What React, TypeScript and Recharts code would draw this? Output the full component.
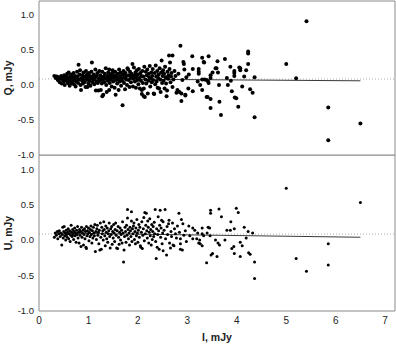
import { ScatterChart, Scatter, XAxis, YAxis, ReferenceLine } from "recharts";

// I, mJy vs Q, mJy
const qPoints: [number, number][] = [
  [0.31, 0.13], [0.34, 0.1], [0.36, 0.12], [0.38, 0.07], [0.4, 0.11], [0.42, 0.04], [0.43, 0.09], [0.45, 0.13], [0.46, 0.02], [0.48, 0.08], [0.49, 0.11], [0.5, 0.05],
  [0.51, 0.14], [0.52, 0.0], [0.53, 0.09], [0.55, 0.12], [0.56, 0.06], [0.57, 0.16], [0.58, 0.03], [0.59, 0.1], [0.6, 0.18], [0.61, 0.07], [0.62, -0.01], [0.63, 0.13], [0.64, 0.04], [0.65, 0.09], [0.66, 0.15], [0.67, 0.02], [0.68, 0.11], [0.69, 0.06], [0.7, 0.17],
  [0.71, 0.01], [0.72, 0.08], [0.73, 0.13], [0.74, -0.02], [0.75, 0.1], [0.76, 0.05], [0.77, 0.19], [0.78, 0.12], [0.79, 0.03], [0.8, 0.29], [0.81, 0.08], [0.82, 0.15], [0.83, 0.21], [0.84, 0.0], [0.85, -0.07], [0.86, 0.1], [0.87, 0.06], [0.88, 0.14], [0.89, 0.02], [0.9, 0.18],
  [0.91, 0.09], [0.92, 0.04], [0.93, 0.12], [0.94, -0.03], [0.95, 0.2], [0.96, 0.07], [0.97, 0.15], [0.98, -0.03], [0.99, 0.11], [1.0, 0.02], [1.01, 0.17], [1.02, 0.06], [1.03, 0.13], [1.04, -0.01], [1.05, 0.09], [1.06, 0.19], [1.07, 0.32], [1.08, 0.04], [1.09, 0.12], [1.1, 0.08],
  [1.11, 0.15], [1.12, 0.01], [1.13, 0.1], [1.14, 0.22], [1.15, -0.08], [1.16, 0.05], [1.17, 0.13], [1.18, 0.17], [1.19, 0.03], [1.2, -0.08], [1.21, 0.09], [1.22, 0.2], [1.23, 0.06], [1.24, 0.14], [1.25, -0.07], [1.26, 0.11], [1.27, 0.02], [1.28, 0.19], [1.28, -0.16], [1.29, 0.07],
  [1.3, -0.14], [1.31, 0.12], [1.32, 0.04], [1.33, 0.16], [1.34, 0.09], [1.35, 0.24], [1.36, 0.0], [1.37, -0.1], [1.38, 0.13], [1.39, 0.06], [1.4, 0.18], [1.41, 0.1], [1.42, -0.07], [1.42, 0.22], [1.43, 0.03], [1.44, 0.15], [1.45, 0.08], [1.46, 0.12], [1.47, -0.02], [1.48, 0.17], [1.49, 0.21], [1.5, 0.05],
  [1.51, 0.1], [1.52, 0.14], [1.53, -0.04], [1.54, 0.19], [1.55, -0.14], [1.56, 0.07], [1.57, 0.12], [1.58, 0.02], [1.59, 0.16], [1.6, 0.09], [1.61, -0.07], [1.62, 0.22], [1.63, 0.05], [1.64, 0.13], [1.65, 0.18], [1.66, -0.01], [1.67, 0.1], [1.68, 0.06], [1.69, -0.29], [1.7, 0.15],
  [1.71, 0.2], [1.72, 0.03], [1.73, 0.11], [1.74, -0.06], [1.75, 0.17], [1.76, 0.08], [1.77, 0.13], [1.78, 0.0], [1.79, 0.24], [1.8, 0.22], [1.81, 0.07], [1.82, 0.14], [1.83, -0.03], [1.84, 0.19], [1.85, 0.1], [1.86, 0.04], [1.87, 0.16], [1.88, 0.12], [1.89, 0.3], [1.9, -0.02],
  [1.91, 0.09], [1.92, 0.25], [1.93, 0.14], [1.94, 0.05], [1.95, 0.18], [1.96, -0.04], [1.97, 0.11], [1.98, 0.21], [1.99, 0.07], [2.0, 0.15], [2.01, 0.01], [2.02, 0.23], [2.03, 0.1], [2.04, -0.05], [2.05, 0.17], [2.06, 0.06], [2.07, 0.13], [2.08, -0.13], [2.08, -0.07], [2.09, 0.2], [2.1, 0.03],
  [2.11, 0.12], [2.12, -0.16], [2.12, -0.05], [2.13, 0.26], [2.14, -0.17], [2.15, 0.08], [2.16, 0.19], [2.17, 0.02], [2.18, 0.14], [2.19, 0.22], [2.2, -0.12], [2.21, 0.06], [2.22, 0.16], [2.23, 0.11], [2.24, 0.27], [2.25, -0.02], [2.26, 0.09], [2.27, 0.18], [2.28, 0.04], [2.29, 0.13], [2.3, 0.23],
  [2.31, 0.07], [2.32, -0.12], [2.33, -0.13], [2.34, 0.17], [2.35, 0.01], [2.36, 0.28], [2.37, 0.12], [2.38, 0.05], [2.39, 0.2], [2.4, -0.04], [2.41, 0.1], [2.42, 0.15], [2.43, -0.05], [2.44, 0.24], [2.45, 0.08], [2.46, -0.1], [2.47, 0.18], [2.48, 0.35], [2.49, 0.03], [2.5, 0.13],
  [2.51, 0.21], [2.52, 0.06], [2.53, 0.16], [2.54, -0.05], [2.55, 0.26], [2.56, 0.11], [2.57, 0.02], [2.58, -0.16], [2.59, -0.08], [2.6, 0.19], [2.61, 0.09], [2.62, 0.14], [2.63, 0.42], [2.64, 0.23], [2.65, 0.32], [2.66, 0.04], [2.67, 0.12], [2.68, 0.17], [2.7, 0.42], [2.7, -0.03],
  [2.72, 0.08], [2.74, 0.2], [2.76, 0.13], [2.78, -0.11], [2.8, -0.07], [2.82, 0.16], [2.84, -0.1], [2.86, 0.56], [2.88, -0.12], [2.88, -0.23], [2.9, 0.07], [2.92, 0.33], [2.93, 0.3], [2.94, 0.22], [2.96, -0.15], [2.96, -0.14], [2.98, 0.11],
  [3.02, -0.05], [3.03, 0.15], [3.1, 0.41], [3.11, 0.23], [3.11, -0.09], [3.21, 0.05], [3.23, 0.19], [3.23, 0.16], [3.23, 0.23], [3.26, 0.0], [3.3, 0.39], [3.3, 0.08], [3.3, -0.07], [3.33, 0.33], [3.34, 0.32], [3.35, 0.08], [3.39, 0.07], [3.39, -0.17], [3.41, -0.17], [3.42, 0.05],
  [3.43, 0.41], [3.43, 0.03], [3.47, 0.14], [3.47, 0.1], [3.47, -0.2], [3.47, -0.33], [3.51, 0.18], [3.57, 0.24], [3.59, 0.24], [3.61, 0.34], [3.62, 0.18], [3.64, 0.0], [3.65, -0.24], [3.68, -0.43], [3.76, 0.37], [3.8, 0.1], [3.82, 0.0], [3.87, 0.26], [3.88, 0.06], [3.9, -0.09],
  [3.95, 0.2], [3.95, 0.17], [3.95, 0.13], [3.96, -0.18], [3.99, -0.19], [4.03, -0.31], [4.05, 0.25], [4.07, 0.24], [4.07, 0.21], [4.11, -0.02], [4.15, 0.12], [4.19, 0.21], [4.23, 0.48], [4.23, 0.45], [4.23, 0.3], [4.27, -0.06], [4.32, -0.11], [4.36, 0.11], [4.36, -0.46],
  [5.0, 0.3], [5.2, 0.095], [5.41, 0.91], [5.85, -0.32], [5.85, -0.79], [6.5, -0.55],
];

// I, mJy vs U, mJy
const uPoints: [number, number][] = [
  [0.31, 0.04], [0.33, 0.1], [0.35, 0.07], [0.37, 0.12], [0.38, 0.02], [0.4, 0.09], [0.41, 0.13], [0.43, 0.05], [0.44, 0.1], [0.46, -0.07], [0.47, 0.08], [0.48, 0.18], [0.49, 0.03], [0.5, 0.12],
  [0.51, 0.19], [0.52, 0.06], [0.53, 0.1], [0.54, 0.0], [0.55, 0.14], [0.56, 0.08], [0.57, 0.04], [0.58, 0.11], [0.59, 0.16], [0.6, 0.02], [0.61, 0.09], [0.62, 0.13], [0.63, -0.02], [0.64, 0.07], [0.65, 0.21], [0.66, 0.11], [0.67, 0.05], [0.68, 0.15], [0.69, 0.08], [0.7, 0.01],
  [0.71, 0.12], [0.72, 0.17], [0.73, 0.06], [0.74, 0.1], [0.75, -0.03], [0.76, 0.14], [0.77, 0.08], [0.78, 0.19], [0.79, 0.03], [0.8, 0.11], [0.81, -0.04], [0.82, 0.15], [0.83, 0.07], [0.84, 0.12], [0.85, -0.09], [0.86, 0.18], [0.87, 0.04], [0.88, 0.1], [0.89, 0.14], [0.9, -0.07],
  [0.91, 0.08], [0.92, 0.16], [0.93, 0.02], [0.94, 0.12], [0.95, -0.1], [0.96, 0.19], [0.96, -0.12], [0.97, 0.06], [0.98, 0.13], [0.99, 0.09], [1.0, 0.17], [1.01, -0.01], [1.02, 0.11], [1.03, 0.05], [1.04, 0.15], [1.05, 0.2], [1.06, 0.08], [1.07, -0.04], [1.08, 0.13], [1.09, 0.03], [1.1, 0.18],
  [1.11, 0.1], [1.12, 0.06], [1.13, 0.22], [1.14, -0.16], [1.15, 0.12], [1.16, 0.01], [1.17, 0.16], [1.18, 0.21], [1.19, 0.07], [1.2, 0.11], [1.21, -0.05], [1.22, 0.14], [1.23, -0.14], [1.24, 0.24], [1.25, 0.04], [1.26, -0.13], [1.27, 0.18], [1.28, 0.09], [1.29, 0.13], [1.3, 0.0],
  [1.31, 0.26], [1.32, 0.15], [1.33, 0.06], [1.34, -0.08], [1.35, 0.2], [1.36, 0.11], [1.37, 0.02], [1.38, 0.17], [1.39, -0.03], [1.4, 0.09], [1.41, 0.13], [1.42, 0.24], [1.43, 0.05], [1.44, -0.11], [1.45, 0.16], [1.46, 0.08], [1.47, 0.19], [1.48, -0.06], [1.49, 0.12], [1.5, 0.03],
  [1.51, 0.22], [1.52, 0.1], [1.53, -0.02], [1.54, 0.15], [1.55, 0.24], [1.56, 0.07], [1.57, -0.11], [1.58, 0.13], [1.59, -0.12], [1.6, 0.19], [1.61, 0.04], [1.62, -0.06], [1.63, 0.11], [1.64, 0.17], [1.65, 0.0], [1.66, 0.08], [1.67, 0.14], [1.68, -0.04], [1.69, 0.26], [1.7, 0.1],
  [1.71, -0.31], [1.72, -0.14], [1.73, 0.05], [1.74, 0.18], [1.75, 0.12], [1.76, -0.03], [1.77, 0.21], [1.78, 0.07], [1.79, 0.43], [1.79, 0.31], [1.8, 0.15], [1.81, 0.02], [1.82, 0.1], [1.83, -0.07], [1.84, 0.18], [1.85, 0.13], [1.86, 0.05], [1.87, 0.4], [1.87, 0.27], [1.88, -0.02], [1.89, 0.16], [1.9, 0.09],
  [1.91, 0.2], [1.92, 0.24], [1.93, 0.01], [1.94, 0.12], [1.95, -0.05], [1.96, 0.17], [1.97, 0.06], [1.98, 0.29], [1.99, 0.1], [2.0, -0.03], [2.01, 0.14], [2.02, 0.22], [2.03, 0.04], [2.04, 0.18], [2.05, -0.08], [2.06, -0.1], [2.07, 0.11], [2.08, 0.26], [2.09, -0.12], [2.1, 0.07],
  [2.11, 0.16], [2.12, 0.32], [2.13, -0.01], [2.14, 0.39], [2.15, 0.09], [2.16, 0.21], [2.17, 0.38], [2.18, 0.13], [2.19, 0.03], [2.2, 0.27], [2.21, 0.18], [2.22, -0.04], [2.23, 0.11], [2.24, 0.3], [2.25, 0.06], [2.26, 0.15], [2.27, -0.07], [2.28, 0.22], [2.29, 0.01], [2.3, 0.12],
  [2.31, 0.19], [2.32, 0.05], [2.33, 0.25], [2.34, 0.09], [2.35, 0.43], [2.36, -0.02], [2.37, -0.26], [2.38, 0.16], [2.39, -0.1], [2.4, 0.08], [2.41, 0.33], [2.42, 0.13], [2.43, -0.13], [2.44, 0.21], [2.45, 0.42], [2.46, 0.04], [2.47, 0.17], [2.48, 0.28], [2.49, -0.05], [2.5, 0.1],
  [2.51, -0.15], [2.51, 0.26], [2.53, 0.14], [2.55, 0.43], [2.56, 0.02], [2.58, -0.21], [2.59, 0.19], [2.6, 0.08], [2.62, 0.23], [2.63, 0.28], [2.64, -0.04], [2.66, -0.11], [2.67, 0.12], [2.68, 0.05], [2.7, 0.24],
  [2.71, -0.07], [2.73, -0.08], [2.74, 0.16], [2.76, 0.09], [2.78, 0.03], [2.8, 0.2], [2.83, 0.38], [2.84, 0.11], [2.86, 0.02], [2.86, -0.13], [2.86, -0.05], [2.88, 0.29], [2.9, -0.14], [2.91, 0.23], [2.93, 0.07], [2.96, 0.13], [2.98, -0.02],
  [3.03, 0.2], [3.05, 0.06], [3.11, 0.17], [3.11, 0.02], [3.15, 0.14], [3.19, 0.02], [3.21, 0.1], [3.23, -0.04], [3.25, 0.0], [3.26, -0.05], [3.3, 0.17], [3.3, 0.09], [3.3, -0.08], [3.33, 0.06], [3.39, -0.32], [3.4, 0.1], [3.42, 0.18], [3.45, 0.17], [3.46, 0.06],
  [3.47, 0.42], [3.47, 0.38], [3.48, -0.21], [3.51, -0.19], [3.57, 0.0], [3.6, -0.23], [3.62, -0.04], [3.65, -0.07], [3.64, 0.44], [3.69, 0.33], [3.76, 0.0], [3.8, 0.14], [3.87, 0.14], [3.88, 0.26], [3.9, -0.12], [3.94, -0.09], [3.95, 0.16], [3.95, -0.19],
  [3.99, 0.45], [4.03, 0.39], [4.07, -0.03], [4.07, -0.23], [4.11, -0.08], [4.15, 0.18], [4.19, 0.03], [4.23, 0.12], [4.24, -0.18], [4.27, -0.2], [4.32, 0.1], [4.36, -0.31], [4.36, -0.54],
  [5.0, 0.73], [5.2, -0.26], [5.41, -0.44], [5.85, -0.05], [5.85, -0.35], [6.5, 0.53],
];

// fitted lines (start, end) and mean level
const qFit: [number, number][] = [[0.3, 0.09], [6.5, 0.06]];
const uFit: [number, number][] = [[0.3, 0.1], [6.5, 0.04]];
const meanLevel = 0.085;

const xTicks = [0, 0.5, 1, 1.5, 2, 2.5, 3, 3.5, 4, 4.5, 5, 5.5, 6, 6.5, 7];
const yTicks = [-1, -0.75, -0.5, -0.25, 0, 0.25, 0.5, 0.75, 1];

const FONT = "'Liberation Sans', Arial, sans-serif";
const AXIS = "#8a8a8a";
const X_DOMAIN: [number, number] = [0, 7.2];
const Y_DOMAIN: [number, number] = [-1, 1.2];

const fmtX = (v: number) => (Number.isInteger(v) ? String(v) : "");
const fmtY = (v: number) => (Math.abs(v * 2 - Math.round(v * 2)) < 1e-9 ? v.toFixed(1) : "");

const noShape = () => <g />;

type PanelProps = {
  points: [number, number][];
  fit: [number, number][];
  title: string;
  r: number;
  bottom?: boolean;
};

function Panel({ points, fit, title, r, bottom }: PanelProps) {
  const data = points.map(([x, y]) => ({ x, y }));
  const mainX = bottom ? "lab" : "in";
  return (
    <ScatterChart
      width={396}
      height={bottom ? 189 : 165}
      margin={{ top: bottom ? 0 : 1, right: 1, bottom: bottom ? 0 : 10, left: 0 }}
    >
      {/* inside ticks on all four sides */}
      <XAxis xAxisId="in" dataKey="x" type="number" domain={X_DOMAIN} ticks={xTicks} interval={0}
        mirror tick={false} tickSize={4} stroke={AXIS} />
      <XAxis xAxisId="top" dataKey="x" orientation="top" type="number" domain={X_DOMAIN} ticks={xTicks}
        interval={0} mirror tick={false} tickSize={4} stroke={AXIS} />
      <YAxis yAxisId="lin" dataKey="y" type="number" domain={Y_DOMAIN} ticks={yTicks} interval={0}
        mirror tick={false} tickSize={4} stroke={AXIS} />
      <YAxis yAxisId="r" dataKey="y" orientation="right" type="number" domain={Y_DOMAIN} ticks={yTicks}
        interval={0} mirror tick={false} tickSize={4} stroke={AXIS} />

      {bottom && (
        <XAxis
          xAxisId="lab"
          dataKey="x"
          type="number"
          domain={X_DOMAIN}
          ticks={xTicks}
          interval={0}
          height={33}
          axisLine={false}
          tickLine={false}
          tickSize={0}
          tickMargin={6}
          tickFormatter={fmtX}
          tick={{ fill: "#222", fontSize: 10, fontFamily: FONT }}
          label={{
            value: "I, mJy",
            position: "insideBottom",
            offset: 3,
            fill: "#222",
            fontSize: 10.5,
            fontWeight: "bold",
            fontFamily: FONT,
          }}
        />
      )}
      <YAxis
        yAxisId="l"
        dataKey="y"
        type="number"
        domain={Y_DOMAIN}
        ticks={yTicks}
        interval={0}
        width={39}
        axisLine={false}
        tickLine={false}
        tickSize={0}
        tickMargin={5}
        tickFormatter={fmtY}
        tick={{ fill: "#222", fontSize: 9.5, fontFamily: FONT }}
        label={{
          value: title,
          angle: -90,
          position: "insideLeft",
          offset: 8,
          style: { textAnchor: "middle" },
          fill: "#222",
          fontSize: 10.5,
          fontWeight: "bold",
          fontFamily: FONT,
        }}
      />

      {/* invisible copies so that every axis gets its ticks */}
      <Scatter xAxisId="top" yAxisId="r" data={data} isAnimationActive={false} shape={noShape} />
      <Scatter xAxisId={bottom ? "in" : "top"} yAxisId="lin" data={data} isAnimationActive={false} shape={noShape} />

      <ReferenceLine xAxisId={mainX} yAxisId="l" y={meanLevel} stroke="#b0b0b0" strokeDasharray="1 2" />
      <ReferenceLine
        xAxisId={mainX}
        yAxisId="l"
        segment={fit.map(([x, y]) => ({ x, y }))}
        stroke="#3a3a3a"
        strokeWidth={1}
      />
      <Scatter
        xAxisId={mainX}
        yAxisId="l"
        data={data}
        isAnimationActive={false}
        shape={(p: any) => <circle cx={p.cx} cy={p.cy} r={r} fill="#000" />}
      />
    </ScatterChart>
  );
}

export default function App() {
  return (
    <div style={{ position: "absolute", left: 0, top: 0, width: 396, height: 344, background: "#fff" }}>
      <div style={{ position: "absolute", left: 0, top: 0 }}>
        <Panel points={qPoints} fit={qFit} title="Q, mJy" r={2} />
      </div>
      <div style={{ position: "absolute", left: 0, top: 155 }}>
        <Panel points={uPoints} fit={uFit} title="U, mJy" r={1.5} bottom />
      </div>
    </div>
  );
}
